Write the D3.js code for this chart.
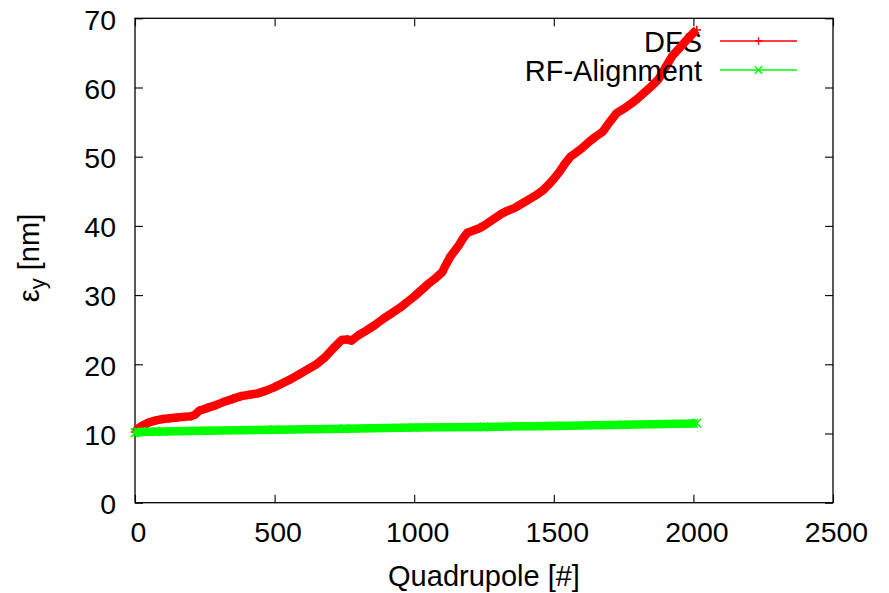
<!DOCTYPE html>
<html>
<head>
<meta charset="utf-8">
<script src="https://cdn.jsdelivr.net/npm/d3@7"></script>
<style>
  html, body { margin: 0; padding: 0; background: #fff; }
  svg { display: block; font-family: "Liberation Sans", Arial, Helvetica, sans-serif; }
</style>
</head>
<body>
<svg id="chart" width="889" height="593"></svg>
<script>
// ---- data ----
const xTicks = [0, 500, 1000, 1500, 2000, 2500];
const yTicks = [0, 10, 20, 30, 40, 50, 60, 70];

const seriesNames = ["DFS", "RF-Alignment"];

const dfsQuad = [0, 10, 25, 50, 75, 100, 125, 150, 175, 200, 215, 230, 260, 290, 320, 350, 380, 410, 440, 470,
  500, 530, 560, 590, 620, 650, 680, 710, 740, 760, 775, 800, 830, 860, 890, 920, 950, 975, 1000, 1025,
  1050, 1075, 1100, 1115, 1130, 1145, 1160, 1175, 1190, 1210, 1235, 1260, 1285, 1310, 1335, 1360, 1385, 1410, 1435, 1460,
  1480, 1500, 1520, 1540, 1560, 1580, 1600, 1625, 1650, 1675, 1700, 1725, 1750, 1775, 1800, 1825, 1850, 1875, 1900, 1925,
  1950, 1975, 2000, 2012];
const dfsEmit = [10.2, 10.7, 11.1, 11.6, 11.9, 12.1, 12.2, 12.3, 12.4, 12.5, 12.7, 13.3, 13.7, 14.1, 14.6, 15.0, 15.4, 15.6, 15.8, 16.2,
  16.7, 17.3, 17.9, 18.6, 19.3, 20.0, 21.0, 22.3, 23.5, 23.6, 23.4, 24.2, 24.9, 25.7, 26.6, 27.4, 28.2, 29.0, 29.8, 30.7,
  31.6, 32.4, 33.3, 34.5, 35.6, 36.4, 37.2, 38.2, 39.0, 39.3, 39.7, 40.3, 41.0, 41.7, 42.2, 42.6, 43.2, 43.8, 44.4, 45.1,
  45.9, 46.8, 47.8, 49.0, 50.0, 50.6, 51.2, 52.1, 52.9, 53.6, 55.0, 56.3, 56.9, 57.6, 58.4, 59.3, 60.2, 61.2, 62.9, 64.6,
  65.7, 66.8, 67.9, 68.3];

const rfQuad = [0, 10, 50, 100, 250, 500, 750, 1000, 1250, 1500, 1750, 2000, 2012];
const rfEmit = [10.1, 10.2, 10.25, 10.3, 10.4, 10.55, 10.7, 10.85, 10.95, 11.1, 11.25, 11.45, 11.5];

// ---- layout ----
const svg = d3.select("#chart");
const pLeft = 135, pRight = 833, pTop = 18.3, pBottom = 502.7;
const x = d3.scaleLinear().domain([0, 2500]).range([pLeft, pRight]);
const y = d3.scaleLinear().domain([0, 70]).range([pBottom, pTop]);
const tickFont = 28.5;
const fmt = d3.format("d");

// axes (ticks inward, mirrored)
const gB = svg.append("g").attr("transform", `translate(0,${pBottom})`)
  .call(d3.axisBottom(x).tickValues(xTicks).tickFormat(fmt).tickSizeInner(-8).tickSizeOuter(0).tickPadding(19));
const gT = svg.append("g").attr("transform", `translate(0,${pTop})`)
  .call(d3.axisTop(x).tickValues(xTicks).tickSizeInner(-8).tickSizeOuter(0).tickFormat(""));
const gL = svg.append("g").attr("transform", `translate(${pLeft},0)`)
  .call(d3.axisLeft(y).tickValues(yTicks).tickFormat(fmt).tickSizeInner(-8).tickSizeOuter(0).tickPadding(19));
const gR = svg.append("g").attr("transform", `translate(${pRight},0)`)
  .call(d3.axisRight(y).tickValues(yTicks).tickSizeInner(-8).tickSizeOuter(0).tickFormat(""));

[gB, gT, gL, gR].forEach(g => {
  g.select(".domain").remove();
  g.selectAll(".tick line").attr("stroke", "#000").attr("stroke-width", 1.1);
  g.selectAll("text").attr("font-size", tickFont).attr("fill", "#000")
    .attr("font-family", "Liberation Sans, Arial, Helvetica, sans-serif");
});
gB.selectAll(".tick text").attr("dx", 3);
gL.selectAll(".tick text").attr("dy", "0.38em");

// frame
svg.append("rect").attr("x", pLeft).attr("y", pTop)
  .attr("width", pRight - pLeft).attr("height", pBottom - pTop)
  .attr("fill", "none").attr("stroke", "#000").attr("stroke-width", 1.3);

// axis labels
svg.append("text").attr("x", 484).attr("y", 586).attr("text-anchor", "middle")
  .attr("font-size", 29).text("Quadrupole [#]");

const yl = svg.append("text").attr("transform", "translate(39,258) rotate(-90)")
  .attr("text-anchor", "middle").attr("font-size", 29);
yl.append("tspan").text("ε");
yl.append("tspan").attr("font-size", 22).attr("dy", 6).text("y");
yl.append("tspan").attr("dy", -6).text(" [nm]");

// helpers
const colors = ["#ff0000", "#00ff00"];
const lineGen = d3.line().x(d => x(d[0])).y(d => y(d[1]));
function plusPath(cx, cy, s) {
  return `M${cx - s},${cy}H${cx + s}M${cx},${cy - s}V${cy + s}`;
}
function crossPath(cx, cy, s) {
  return `M${cx - s},${cy - s}L${cx + s},${cy + s}M${cx - s},${cy + s}L${cx + s},${cy - s}`;
}
const legendX1 = 720, legendX2 = 797, legendTextX = 702;
const legendY = [41, 70];

function drawSeries(i, qs, vs, markerFn) {
  const pts = qs.map((q, k) => [q, vs[k]]);
  // legend entry
  svg.append("text").attr("x", legendTextX).attr("y", legendY[i] + 10.5)
    .attr("text-anchor", "end").attr("font-size", 29).text(seriesNames[i]);
  svg.append("line").attr("x1", legendX1).attr("x2", legendX2)
    .attr("y1", legendY[i]).attr("y2", legendY[i])
    .attr("stroke", colors[i]).attr("stroke-width", 1.3);
  svg.append("path").attr("d", markerFn((legendX1 + legendX2) / 2, legendY[i], 3.7))
    .attr("stroke", colors[i]).attr("stroke-width", 1.3).attr("fill", "none");
  // data band
  svg.append("path").datum(pts).attr("d", lineGen)
    .attr("fill", "none").attr("stroke", colors[i]).attr("stroke-width", 8.5)
    .attr("stroke-linejoin", "round").attr("stroke-linecap", "butt");
  svg.append("g").selectAll("path").data(pts).join("path")
    .attr("d", d => markerFn(x(d[0]), y(d[1]), 4.3))
    .attr("stroke", colors[i]).attr("stroke-width", 1.5).attr("fill", "none");
}

drawSeries(0, dfsQuad, dfsEmit, plusPath);
drawSeries(1, rfQuad, rfEmit, crossPath);
</script>
</body>
</html>
